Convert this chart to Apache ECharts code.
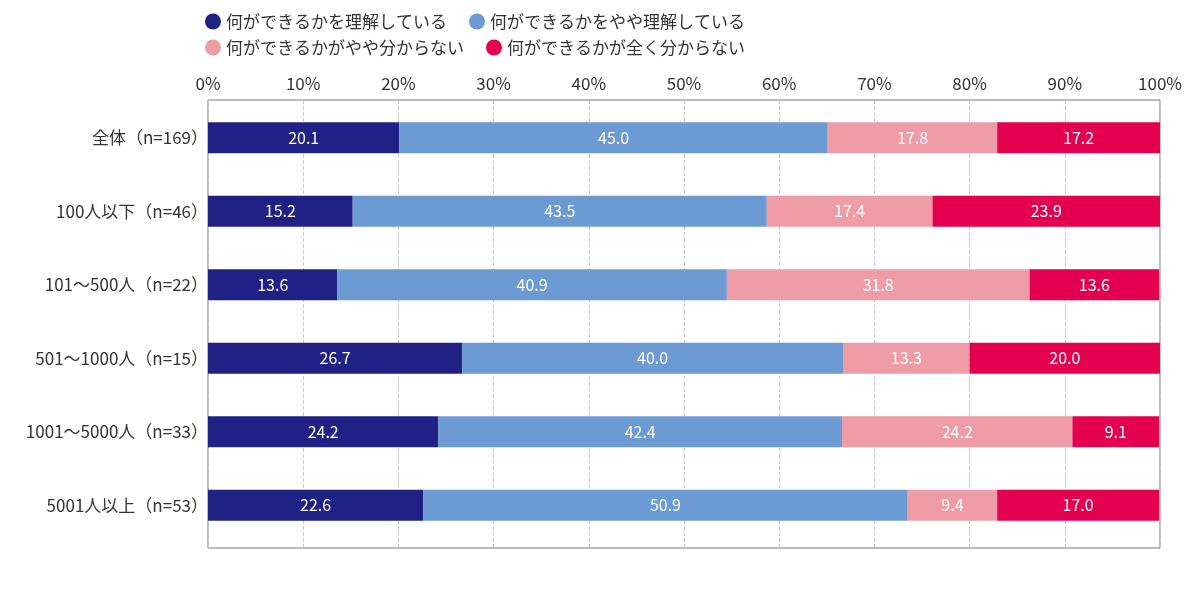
<!DOCTYPE html>
<html>
<head>
<meta charset="utf-8">
<script src="https://cdn.jsdelivr.net/npm/echarts@6/dist/echarts.min.js"></script>
<style>
  html, body { margin: 0; padding: 0; background: #fff; }
  #chart { width: 1200px; height: 591px; }
</style>
</head>
<body>
<div id="chart"></div>
<script>
var categories = ['全体（n=169）', '100人以下（n=46）', '101～500人（n=22）', '501～1000人（n=15）', '1001～5000人（n=33）', '5001人以上（n=53）'];
var seriesNames = ['何ができるかを理解している', '何ができるかをやや理解している', '何ができるかがやや分からない', '何ができるかが全く分からない'];
var understand = [20.1, 15.2, 13.6, 26.7, 24.2, 22.6];
var somewhatUnderstand = [45.0, 43.5, 40.9, 40.0, 42.4, 50.9];
var somewhatUnclear = [17.8, 17.4, 31.8, 13.3, 24.2, 9.4];
var totallyUnclear = [17.2, 23.9, 13.6, 20.0, 9.1, 17.0];
var colors = ['#1f2185', '#6b9bd2', '#f09ca6', '#e4004f'];

var font = '"Noto Sans CJK JP", "Noto Sans", sans-serif';

function makeSeries(name, data, color) {
    return {
        name: name,
        type: 'bar',
        stack: 'total',
        xAxisIndex: 1,
        yAxisIndex: 1,
        data: data,
        barWidth: 31,
        itemStyle: { color: color },
        label: {
            show: true,
            position: 'inside',
            color: '#fff',
            fontSize: 16,
            fontFamily: font,
            formatter: function (p) { return p.value.toFixed(1); }
        }
    };
}

var legendText = { fontSize: 17, color: '#333', fontFamily: font };

var option = {
    animation: false,
    textStyle: { fontFamily: font },
    legend: [
        {
            data: [seriesNames[0], seriesNames[1]],
            left: 200,
            top: 8,
            icon: 'circle',
            itemWidth: 16,
            itemHeight: 16,
            itemGap: 22,
            textStyle: legendText
        },
        {
            data: [seriesNames[2], seriesNames[3]],
            left: 200,
            top: 34,
            icon: 'circle',
            itemWidth: 16,
            itemHeight: 16,
            itemGap: 22,
            textStyle: legendText
        }
    ],
    grid: [
        // frame + percent grid lines
        { left: 208, right: 40, top: 100, bottom: 43, show: true, borderColor: '#777', borderWidth: 1 },
        // bars
        { left: 208, right: 40, top: 101, bottom: 49 }
    ],
    xAxis: [
        {
            type: 'value',
            gridIndex: 0,
            position: 'top',
            min: 0,
            max: 100,
            interval: 10,
            axisLine: { show: false },
            axisTick: { show: false },
            axisLabel: {
                formatter: '{value}%',
                fontSize: 17,
                color: '#333',
                margin: 8,
                fontFamily: font
            },
            splitLine: { show: true, lineStyle: { color: '#c8c8c8', type: 'dashed' } }
        },
        {
            type: 'value',
            gridIndex: 1,
            min: 0,
            max: 100,
            show: false
        }
    ],
    yAxis: [
        {
            type: 'value',
            gridIndex: 0,
            show: false
        },
        {
            type: 'category',
            gridIndex: 1,
            inverse: true,
            data: categories,
            axisLine: { show: false },
            axisTick: { show: false },
            axisLabel: { fontSize: 17, color: '#333', margin: 0, fontFamily: font }
        }
    ],
    series: [
        makeSeries(seriesNames[0], understand, colors[0]),
        makeSeries(seriesNames[1], somewhatUnderstand, colors[1]),
        makeSeries(seriesNames[2], somewhatUnclear, colors[2]),
        makeSeries(seriesNames[3], totallyUnclear, colors[3])
    ]
};

echarts.init(document.getElementById('chart')).setOption(option);
</script>
</body>
</html>
